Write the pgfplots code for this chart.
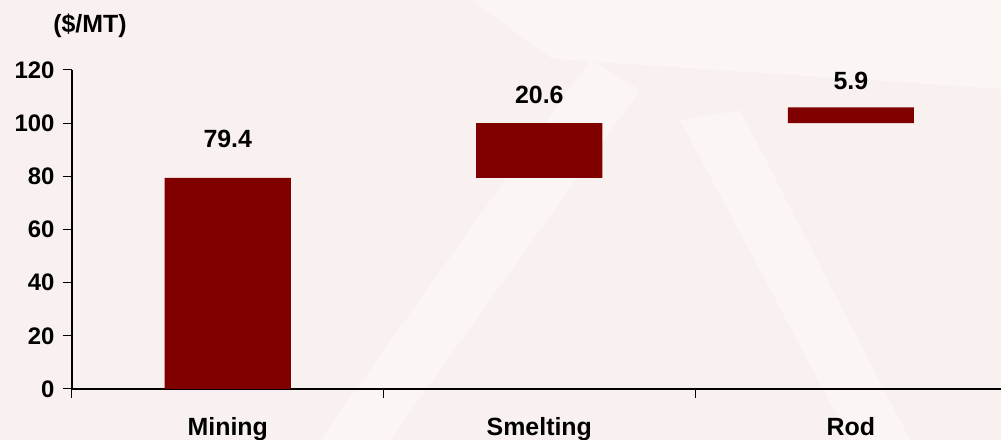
\documentclass[border=0pt]{standalone}
\usepackage{pgfplots}
\pgfplotsset{compat=1.18}
\usepackage{fontspec}
\setmainfont{Liberation Sans}
\definecolor{bg}{RGB}{249,240,240}
\definecolor{bglight}{RGB}{251,245,244}
\definecolor{barred}{RGB}{128,0,0}

\pgfplotstableread{
x base delta
0 0    79.4
1 79.4 20.6
2 100  5.9
}\bars

\pgfplotstableread{
x y label
0 94.2 79.4
1 110.6 20.6
2 115.7 5.9
}\labels

\begin{document}
\begin{tikzpicture}[x=1bp,y=1bp]
\fill[bg] (-72,-51) rectangle (929,389);
\fill[bglight] (248,-51) -- (318,-51) -- (568,299) -- (518,329) -- cycle;
\fill[bglight] (608,269) -- (668,279) -- (838,-51) -- (778,-51) -- cycle;
\fill[bglight] (400,389) -- (929,389) -- (929,300) -- (480,330) -- cycle;
\node[font=\bfseries\fontsize{25}{30}\selectfont] at (18,363) {(\$/MT)};
\begin{axis}[
  at={(0,0)}, anchor=south west,
  scale only axis, width=929bp, height=319bp,
  xmin=-0.5, xmax=2.482, ymin=0, ymax=120,
  axis x line=bottom, axis y line=left,
  axis line style={-, line width=1.3bp, black},
  ytick={0,20,...,120},
  xtick={-0.5,0.5,1.5},
  xticklabels={},
  extra x ticks={0,1,2},
  extra x tick labels={Mining,Smelting,Rod},
  extra x tick style={major tick length=0pt, tick style={draw=none}},
  tick align=outside, major tick length=9bp,
  tick style={black, line width=1bp},
  /pgf/number format/assume math mode=true,
  yticklabel style={font=\bfseries\fontsize{24}{28}\selectfont, xshift=-5bp},
  xticklabel style={font=\bfseries\fontsize{25}{30}\selectfont, yshift=-25bp},
  ybar stacked, bar width=0.405,
  clip=false,
]
\addplot[draw=none, fill=none] table[x=x, y=base] {\bars};
\addplot[draw=none, fill=barred] table[x=x, y=delta] {\bars};
\end{axis}
\begin{axis}[
  at={(0,0)}, anchor=south west,
  scale only axis, width=929bp, height=319bp,
  xmin=-0.5, xmax=2.482, ymin=0, ymax=120,
  hide axis, clip=false,
]
\addplot[only marks, mark=none, nodes near coords, point meta=explicit symbolic,
  nodes near coords align={center},
  every node near coord/.append style={font=\bfseries\fontsize{25}{30}\selectfont, text=black}]
  table[x=x, y=y, meta=label] {\labels};
\end{axis}
\pgfresetboundingbox
\path (-72,-51) rectangle (929,389);
\end{tikzpicture}
\end{document}
